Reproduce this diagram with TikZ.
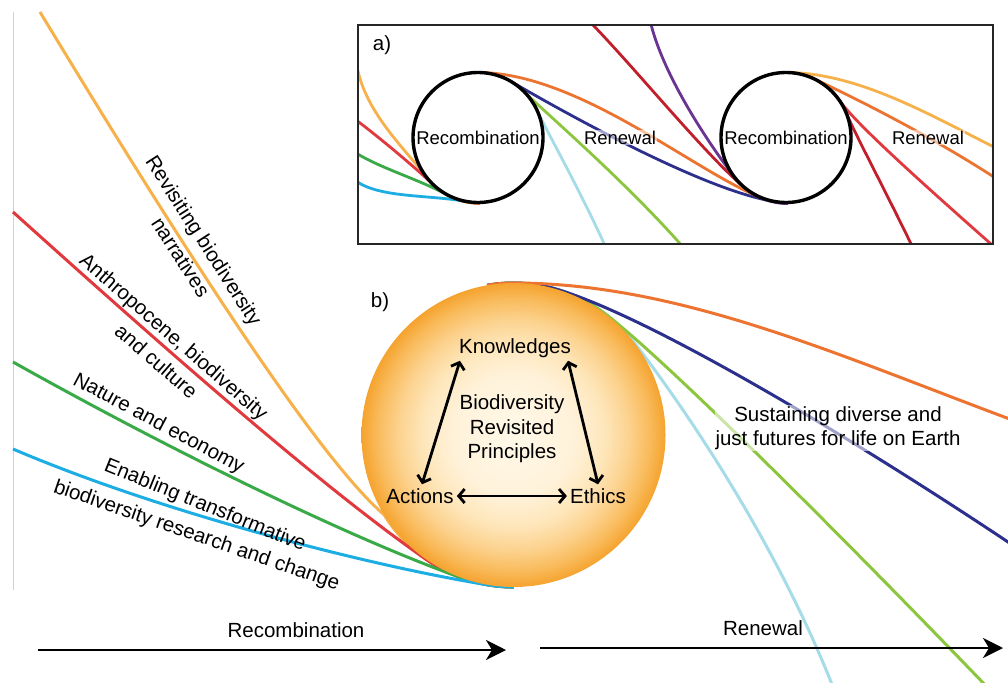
\documentclass[tikz,border=0pt]{standalone}
\usepackage{fontspec}
\setmainfont{Liberation Sans}
\usetikzlibrary{arrows.meta}
\definecolor{cLOr}{HTML}{F6B14B}
\definecolor{cOrange}{HTML}{EC7430}
\definecolor{cRed}{HTML}{E0393E}
\definecolor{cDRed}{HTML}{C11F2B}
\definecolor{cGreen}{HTML}{3AAA48}
\definecolor{cYG}{HTML}{8CC63F}
\definecolor{cCyan}{HTML}{1CADE3}
\definecolor{cLBlue}{HTML}{A6DCE7}
\definecolor{cNavy}{HTML}{2D2F8C}
\definecolor{cPurple}{HTML}{6A3493}
\definecolor{sunA}{HTML}{FFF8E8}
\definecolor{sunB}{HTML}{FFF2DA}
\definecolor{sunC}{HTML}{FEE6BA}
\definecolor{sunD}{HTML}{FCD28E}
\definecolor{sunE}{HTML}{F9BA5A}
\definecolor{sunF}{HTML}{F5A32E}
\pgfdeclareradialshading{sunshade}{\pgfpoint{0bp}{0bp}}{color(0bp)=(sunA); color(10bp)=(sunB); color(15bp)=(sunC); color(19bp)=(sunD); color(22.5bp)=(sunE); color(25bp)=(sunF); color(50bp)=(sunF)}
\begin{document}
\begin{tikzpicture}[x=1pt,y=-1pt,
  crv/.style={line width=3pt},
  icrv/.style={line width=2.8pt},
  txt/.style={font=\fontsize{20.5}{24.5}\selectfont, inner sep=0pt, align=center},
  lbl/.style={font=\fontsize{20.5}{24.5}\selectfont, inner sep=0pt},
  itxt/.style={font=\fontsize{18.5}{22}\selectfont, inner sep=0pt},
  fade/.style={fill=white, fill opacity=0.55, text opacity=1, inner sep=1pt},
  dbl/.style={line width=2.8pt, {Straight Barb[length=6pt,width=14pt]}-{Straight Barb[length=6pt,width=14pt]}},
  barrow/.style={line width=2.6pt, -{Stealth[length=20pt,width=20pt,inset=6pt]}},
  icirc/.style={circle, draw=black, line width=3.4pt, fill=white, minimum size=130pt, inner sep=0pt, font=\fontsize{18.5}{22}\selectfont}
]
\useasboundingbox (0,0) rectangle (1008,682);

% left grey rule
\coordinate (g1) at (13,12);
\coordinate (g2) at (13,590);
\draw[black!18, line width=1pt] (g1) -- (g2);

% bottom labels
\node[txt] (recl) at (296,630) {Recombination};
\node[txt] (renl) at (763,628) {Renewal};

% ---- panel b curves (behind the circle)
\draw[crv, cLOr] (40,12) .. controls (190,260) and (320,460) .. (384.0,514.6) arc[start angle=148.4, end angle=90, radius=152];
\draw[crv, cRed] (13,212) .. controls (143,329) and (317,484) .. (427.0,560.0) arc[start angle=124.7, end angle=90, radius=152];
\draw[crv, cGreen] (13,362) .. controls (170,450) and (349.6,538.2) .. (462.8,578.3) arc[start angle=109.5, end angle=90, radius=152];
\draw[crv, cCyan] (13,449) .. controls (170,516) and (381.3,568.1) .. (490.0,585.2) arc[start angle=98.9, end angle=90, radius=152];

\draw[crv, cLBlue] (487.1,285.3) arc[start angle=-100, end angle=-38, radius=152] .. controls (664,380.8) and (770,525) .. (835,692);
\draw[crv, cYG] (487.1,285.3) arc[start angle=-100, end angle=-56.7, radius=152] .. controls (647,341) and (838,532) .. (990,690);
\draw[crv, cNavy] (487.1,285.3) arc[start angle=-100, end angle=-73.3, radius=152] .. controls (653,318) and (860,443) .. (1014,546);
\draw[crv, cOrange] (487.1,285.3) arc[start angle=-100, end angle=-90, radius=152] .. controls (680,283) and (840,356) .. (1015,421);

% bottom arrows
\coordinate (ra1) at (38,650);
\coordinate (ra2) at (506,650);
\coordinate (rb1) at (540,648);
\coordinate (rb2) at (1003,648);
\draw[barrow] (ra1) -- (ra2);
\draw[barrow] (rb1) -- (rb2);

% the circle
\node[circle, shade, shading=sunshade, minimum size=304pt, inner sep=0pt] (sun) at (513.5,435) {};
\node[txt] (know) at (515,348) {Knowledges};
\node[txt] (bio) at (512,429) {Biodiversity\\Revisited\\Principles};
\node[txt] (act) at (420,496) {Actions};
\node[txt] (eth) at (598,496) {Ethics};
\draw[dbl] ([shift={(1,3)}]know.south west) -- ([shift={(2,-4)}]act.north);
\draw[dbl] ([shift={(-3,3)}]know.south east) -- ([shift={(0,-4)}]eth.north);
\draw[dbl] ([xshift=3pt]act.east) -- ([xshift=-3pt]eth.west);

\node[txt] (bl) at (380,302) {b)};
\node[txt, fade] (sust) at (838,428) {Sustaining diverse and\\just futures for life on Earth};

% left labels
\node[lbl, rotate=-57.3] (l1) at (202.5,241.5) {Revisiting biodiversity};
\node[lbl, rotate=-57.3] (l2) at (181,257) {narratives};
\node[lbl, rotate=-41] (l3) at (173,338) {Anthropocene, biodiversity};
\node[lbl, rotate=-41] (l4) at (156.5,361) {and culture};
\node[lbl, rotate=-28] (l5) at (158.5,424) {Nature and economy};
\node[lbl, rotate=-22] (l6) at (205,506) {Enabling transformative};
\node[lbl, rotate=-19] (l7) at (196.5,536) {biodiversity research and change};

% ---- panel a
\coordinate (bx1) at (358,25);
\coordinate (bx2) at (993,244);
\fill[white] (bx1) rectangle (bx2);
\begin{scope}
\clip (bx1) rectangle (bx2);
% left of first circle
\draw[icrv, cLOr] (356,60) .. controls (362,110) and (405,148.6) .. (426.1,176.6) arc[start angle=143, end angle=90, radius=67.5];
\draw[icrv, cRed] (356,120) .. controls (375,134) and (411.8,164.5) .. (433.7,185) arc[start angle=133, end angle=90, radius=67.5];
\draw[icrv, cGreen] (356,153) .. controls (380,168) and (416.6,178.5) .. (447.5,194.9) arc[start angle=118, end angle=90, radius=67.5];
\draw[icrv, cCyan] (356,181) .. controls (380,198) and (427.3,194.6) .. (466.7,201.5) arc[start angle=100, end angle=90, radius=67.5];
% right of first circle
\draw[icrv, cLBlue] (478,72.5) arc[start angle=-90, end angle=-25, radius=65] .. controls (547.5,132.7) and (580,190) .. (607,250);
\draw[icrv, cYG] (478,72.5) arc[start angle=-90, end angle=-45, radius=65] .. controls (545.2,112.7) and (630,185) .. (690,255);
\draw[icrv, cNavy] (478,72.5) arc[start angle=-90, end angle=-60, radius=65] .. controls (562,111.2) and (708.6,193.5) .. (778.1,202) arc[start angle=97, end angle=90, radius=67.5];
\draw[icrv, cOrange] (478,72.5) .. controls (580,72.5) and (698,174.7) .. (763.8,198.6) arc[start angle=110, end angle=90, radius=67.5];
% from the top into the second circle
\draw[icrv, cDRed] (588,20) .. controls (630,62) and (705.7,155.4) .. (744.2,187.3) arc[start angle=130, end angle=90, radius=67.5];
\draw[icrv, cPurple] (650,20) .. controls (662,75) and (712,148) .. (732.8,174.8) arc[start angle=145, end angle=90, radius=67.5];
% right of second circle
\draw[icrv, cDRed] (786,72.5) arc[start angle=-90, end angle=-23, radius=65] .. controls (855.6,135.1) and (885,190) .. (914,250);
\draw[icrv, cRed] (786,72.5) arc[start angle=-90, end angle=-35, radius=65] .. controls (856.4,124.8) and (930,190) .. (1000,252);
\draw[icrv, cOrange] (786,72.5) arc[start angle=-90, end angle=-65, radius=65] .. controls (849.7,95.5) and (930,135) .. (1000,181);
\draw[icrv, cLOr] (786,72.5) .. controls (860,72.5) and (935,118) .. (1000,150);
\end{scope}
\node[icirc] (c1) at (478,137.5) {Recombination};
\node[icirc] (c2) at (786,137.5) {Recombination};
\node[itxt, fade] (rn1) at (620,137.5) {Renewal};
\node[itxt, fade] (rn2) at (928,137.5) {Renewal};
\node[txt] (al) at (382,45) {a)};
\draw[line width=2pt, black!85] (bx1) rectangle (bx2);
\end{tikzpicture}
\end{document}
